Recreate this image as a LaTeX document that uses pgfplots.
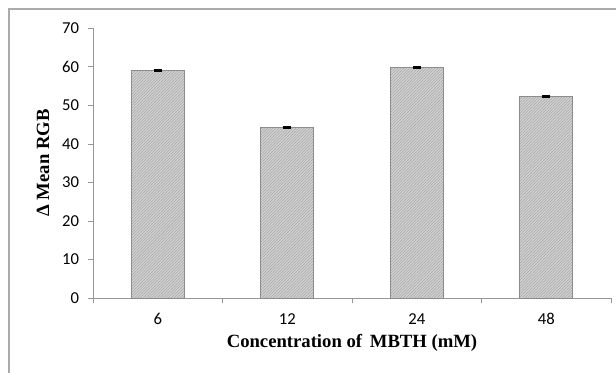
\documentclass[border=0pt]{standalone}
\usepackage{pgfplots}
\pgfplotsset{compat=1.18}
\usepackage{fontspec}
\setmainfont{Liberation Serif}
\newfontfamily\calibri{Carlito}
\usetikzlibrary{patterns.meta}
\definecolor{axgray}{RGB}{150,150,150}
\begin{document}
\begin{tikzpicture}
\path[use as bounding box] (0,0) rectangle (462pt,279.75pt);
\draw[color=axgray!80,line width=0.8pt] (6.75pt,-20pt) rectangle (480pt,273pt);
\begin{axis}[
  at={(69.75pt,56.25pt)}, anchor=south west,
  scale only axis, width=388.5pt, height=202.5pt,
  xmin=0.5, xmax=4.5, ymin=0, ymax=70,
  axis x line*=bottom, axis y line*=left,
  axis line style={axgray, -},
  xtick={1,2,3,4}, xticklabels={6,12,24,48},
  minor xtick={0.5,1.5,2.5,3.5,4.5},
  ytick={0,10,...,70},
  tick align=outside,
  major x tick style={draw=none},
  minor x tick style={axgray},
  major y tick style={axgray},
  major tick length=4pt, minor tick length=4pt,
  /pgf/number format/assume math mode=true,
  tick label style={font=\calibri\fontsize{12.5}{14}\selectfont, black},
  xticklabel style={yshift=-4pt},
  yticklabel style={xshift=-3pt},
  xlabel={\bfseries\fontsize{14}{16}\selectfont Concentration of\, MBTH (mM)},
  ylabel={\bfseries\fontsize{14}{16}\selectfont Δ Mean RGB},
  ylabel style={at={(axis description cs:-0.0965,0.5)}, anchor=center},
  ybar, bar width=39.75pt,
  clip=false,
]
\addplot[draw=gray!90, fill=gray!35,
  postaction={pattern={Lines[angle=45,distance=1.5pt,line width=0.4pt]}, pattern color=gray!70},
  error bars/.cd, y dir=both, y explicit,
  error bar style={black, line width=1pt},
  error mark=-,
  error mark options={black, rotate=90, mark size=3pt, line width=1.2pt}]
coordinates {
(1,59.0) +- (0,0.2)
(2,44.3) +- (0,0.2)
(3,59.7) +- (0,0.2)
(4,52.3) +- (0,0.2)
};
\end{axis}
\end{tikzpicture}
\end{document}
